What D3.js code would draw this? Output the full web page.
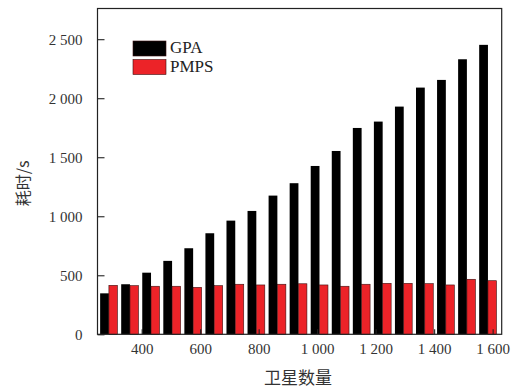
<!DOCTYPE html>
<html>
<head>
<meta charset="utf-8">
<script src="https://cdn.jsdelivr.net/npm/d3@7"></script>
<style>
  body { margin: 0; background: #fff; }
  svg { display: block; }
</style>
</head>
<body>
<script>
// satellite counts and elapsed time (s) per method
const satellites = [288, 360, 432, 504, 576, 648, 720, 792, 864, 936, 1008, 1080, 1152, 1224, 1296, 1368, 1440, 1512, 1584];
const gpa = [347, 424, 522, 622, 729, 856, 963, 1045, 1175, 1280, 1426, 1553, 1748, 1802, 1929, 2090, 2155, 2330, 2452];
const pmps = [415, 412, 407, 407, 398, 412, 424, 418, 424, 428, 418, 407, 424, 432, 432, 429, 418, 466, 454];
const xTicks = [400, 600, 800, 1000, 1200, 1400, 1600];
const yTicks = [0, 500, 1000, 1500, 2000, 2500];

const width = 518, height = 388;
const margin = {top: 8.5, right: 16.3, bottom: 53.7, left: 97.5};

const svg = d3.select('body').append('svg').attr('width', width).attr('height', height);

const x = d3.scaleLinear().domain([249, 1631]).range([margin.left, width - margin.right]);
const y = d3.scaleLinear().domain([0, 2760]).range([height - margin.bottom, margin.top]);

const fmt = d3.formatLocale({decimal: '.', thousands: ' ', grouping: [3], currency: ['', '']}).format(',');

const serif = '"Liberation Serif", "DejaVu Serif", serif';
const cjk = '"Noto Sans CJK SC", sans-serif';

// bars
const rows = satellites.map((s, i) => ({s, gpa: gpa[i], pmps: pmps[i]}));

svg.append('g').selectAll('rect').data(rows).enter().append('rect')
    .attr('x', d => x(d.s - 30)).attr('width', d => x(d.s) - x(d.s - 30))
    .attr('y', d => y(d.gpa)).attr('height', d => y(0) - y(d.gpa))
    .attr('fill', '#000');

svg.append('g').selectAll('rect').data(rows).enter().append('rect')
    .attr('x', d => x(d.s)).attr('width', d => x(d.s + 29) - x(d.s))
    .attr('y', d => y(d.pmps)).attr('height', d => y(0) - y(d.pmps))
    .attr('fill', '#ec2328').attr('stroke', '#3a1010').attr('stroke-width', 0.6);

// axes
const yAxis = svg.append('g').attr('transform', `translate(${margin.left},0)`)
    .call(d3.axisLeft(y).tickValues(yTicks).tickFormat(fmt).tickSizeInner(-7).tickSizeOuter(0).tickPadding(15));
const xAxis = svg.append('g').attr('transform', `translate(0,${height - margin.bottom})`)
    .call(d3.axisBottom(x).tickValues(xTicks).tickFormat(fmt).tickSizeInner(-5).tickSizeOuter(0).tickPadding(9));

[yAxis, xAxis].forEach(a => {
    a.attr('font-family', serif).attr('font-size', 15);
    a.select('.domain').remove();
    a.selectAll('line').attr('stroke', '#222').attr('stroke-width', 1.1);
    a.selectAll('text').attr('fill', '#333');
});

// frame
svg.append('rect')
    .attr('x', margin.left).attr('y', margin.top)
    .attr('width', width - margin.left - margin.right)
    .attr('height', height - margin.top - margin.bottom)
    .attr('fill', 'none').attr('stroke', '#222').attr('stroke-width', 1.2);

// titles
svg.append('text')
    .attr('transform', `translate(29,${(margin.top + height - margin.bottom) / 2 + 12}) rotate(-90)`)
    .attr('text-anchor', 'middle').attr('fill', '#333')
    .style('font-family', cjk).style('font-size', '16px')
    .text('耗时/s');

svg.append('text')
    .attr('x', 298).attr('y', 384)
    .attr('text-anchor', 'middle').attr('fill', '#333')
    .style('font-family', cjk).style('font-size', '17px')
    .text('卫星数量');

// legend
const legend = [{name: 'GPA', color: '#000'}, {name: 'PMPS', color: '#ec2328'}];
const lg = svg.append('g').attr('transform', 'translate(133,41)');
lg.selectAll('rect').data(legend).enter().append('rect')
    .attr('x', 0).attr('y', (d, i) => i * 18.5)
    .attr('width', 33).attr('height', 15)
    .attr('fill', d => d.color).attr('stroke', '#3a1010').attr('stroke-width', 0.6);
lg.selectAll('text').data(legend).enter().append('text')
    .attr('x', 37).attr('y', (d, i) => i * 18.5 + 12)
    .attr('fill', '#222')
    .style('font-family', serif).style('font-size', '17px')
    .text(d => d.name);
</script>
</body>
</html>
